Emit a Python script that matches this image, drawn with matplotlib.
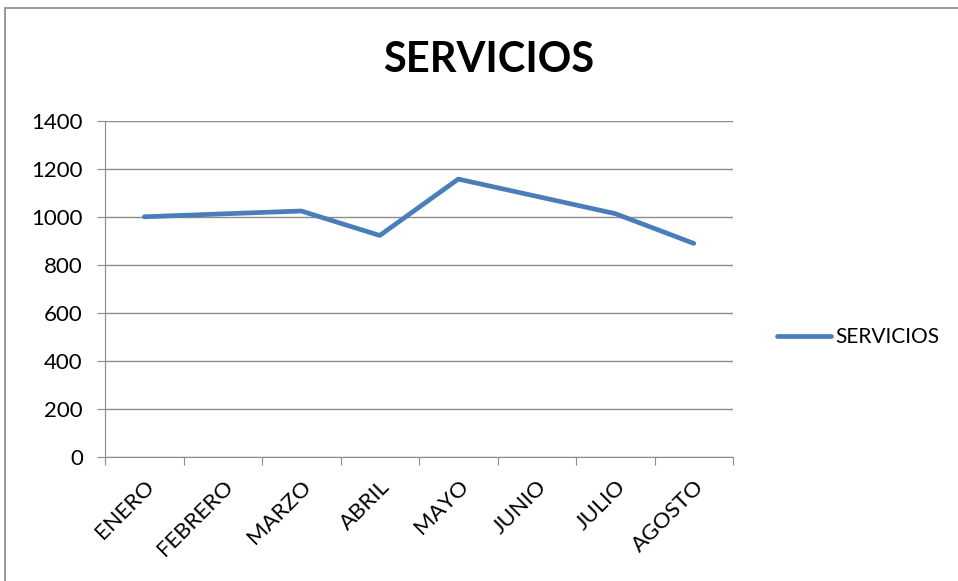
import matplotlib
matplotlib.use("Agg")
import matplotlib.pyplot as plt
from matplotlib.patches import Rectangle

# data
meses = ["ENERO", "FEBRERO", "MARZO", "ABRIL", "MAYO", "JUNIO", "JULIO", "AGOSTO"]
servicios = [1001, 1013, 1025, 923, 1158, 1086, 1014, 890]
yticks = [0, 200, 400, 600, 800, 1000, 1200, 1400]

plt.rcParams['font.family'] = ['Lato', 'DejaVu Sans']

fig = plt.figure(figsize=(9.58, 5.81), dpi=100)
ax = fig.add_axes([105 / 958, 1 - 457 / 581, (733 - 105) / 958, (457 - 121) / 581])

# outer chart border like the excel frame
fig.patches.append(Rectangle((5 / 958, -0.1), 1.2, 1 - 8 / 581 + 0.1,
                             transform=fig.transFigure, fill=False,
                             edgecolor='#888888', linewidth=1.2))

x = list(range(len(meses)))
line, = ax.plot(x, servicios, color='#4A7EBB', linewidth=3.4,
                solid_capstyle='round', solid_joinstyle='round', label='SERVICIOS')

ax.set_xlim(-0.5, len(meses) - 0.5)
ax.set_ylim(0, 1400)
ax.set_yticks(yticks)
ax.set_yticklabels([str(v) for v in yticks], fontsize=16)
ax.yaxis.grid(True, color='#8c8c8c', linewidth=1)
ax.set_axisbelow(True)

# categories sit between ticks
ax.set_xticks([i - 0.5 for i in range(len(meses) + 1)])
ax.set_xticklabels([])
ax.set_xticks(x, minor=True)
ax.set_xticklabels(meses, minor=True, rotation=45, ha='right', va='top',
                   rotation_mode='anchor', fontsize=16)
ax.tick_params(axis='x', which='minor', length=0, pad=14)
ax.tick_params(axis='x', which='major', length=6, color='#8c8c8c')
ax.tick_params(axis='y', length=6, color='#8c8c8c', pad=10)

for s in ['top', 'right']:
    ax.spines[s].set_visible(False)
for s in ['left', 'bottom']:
    ax.spines[s].set_color('#8c8c8c')

fig.text(489 / 958, 1 - 60 / 581, 'SERVICIOS', fontsize=30, fontweight='bold',
         ha='center', va='center')

fig.legend(handles=[line], loc='center left', bbox_to_anchor=(758 / 958, 1 - 337 / 581),
           frameon=False, fontsize=15, handlelength=2.6, handletextpad=0.2)

fig.savefig('out.png', dpi=100)
